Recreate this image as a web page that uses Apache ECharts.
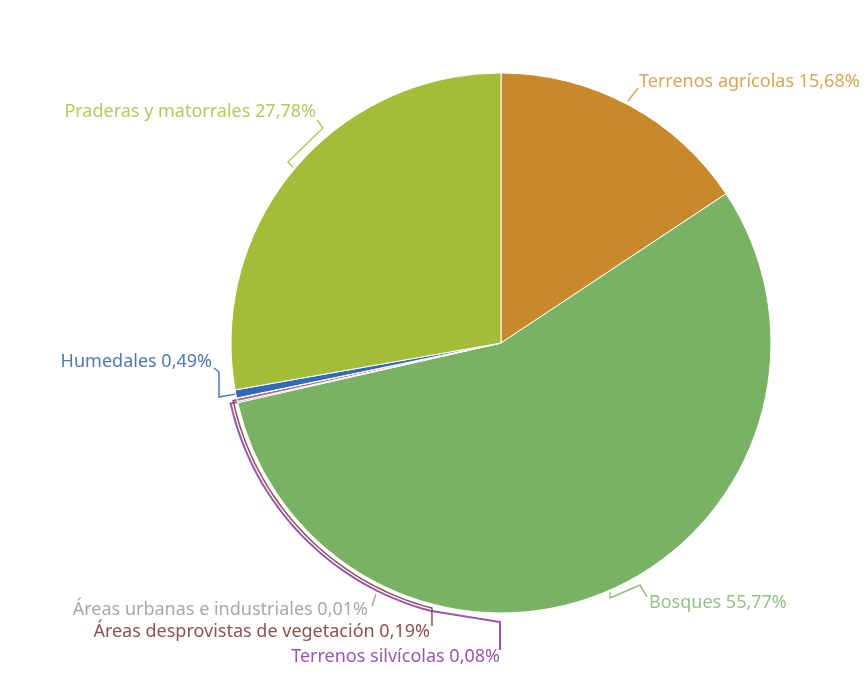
<!DOCTYPE html>
<html>
<head>
<meta charset="utf-8">
<script src="https://cdn.jsdelivr.net/npm/echarts@6/dist/echarts.min.js"></script>
<style>
  html, body { margin: 0; padding: 0; background: #fff; }
  #chart { width: 866px; height: 675px; }
</style>
</head>
<body>
<div id="chart"></div>
<script>
// usos de suelo (%)
const names = [
  'Terrenos agrícolas',
  'Bosques',
  'Terrenos silvícolas',
  'Áreas desprovistas de vegetación',
  'Áreas urbanas e industriales',
  'Humedales',
  'Praderas y matorrales'
]
const values = [15.68, 55.77, 0.08, 0.19, 0.01, 0.49, 27.78]
const sliceColors = ['#c8892b', '#79b265', '#9b5fb5', '#b56a7c', '#cfcfcf', '#2f6bb8', '#a4bd38']
const textColors = ['#d6a65a', '#98bf88', '#9957b3', '#8e5050', '#a8a8a8', '#4d79b8', '#b5c860']

const CX = 501, CY = 343, R = 270

function arcPt(deg, r) {
  const a = deg * Math.PI / 180
  return [CX + r * Math.sin(a), CY - r * Math.cos(a)]
}
function arc(from, to, r) {
  const pts = []
  const n = Math.max(2, Math.ceil(Math.abs(to - from) / 2))
  for (let i = 0; i <= n; i++) pts.push(arcPt(from + (to - from) * i / n, r))
  return pts
}

// mid angle of each slice, clockwise from the top
const total = values.reduce((a, b) => a + b, 0)
const midAngles = []
let acc = 0
values.forEach(v => {
  midAngles.push((acc + v / 2) / total * 360)
  acc += v
})

// where each label sits and how its line runs
const labelSpots = [
  { x: 639, y: 82, align: 'left', line: () => [arcPt(27.7, 273), [638, 88]] },
  { x: 649, y: 603, align: 'left', line: () => [arcPt(156.4, 272), [610, 598], [640, 585], [647, 597]] },
  { x: 500, y: 657, align: 'right', line: m => [arcPt(m, 270)].concat(arc(m, 194.8, 277), [[500, 622], [500, 650]]) },
  { x: 430, y: 632, align: 'right', line: m => [arcPt(m, 270)].concat(arc(m, 194.6, 274), [[432, 626]]) },
  { x: 368, y: 610, align: 'right', line: () => [[376, 594], [372, 606]] },
  { x: 212, y: 362, align: 'right', line: m => [arcPt(m, 268), [219, 397], [219, 372], [214, 368]] },
  { x: 316, y: 112, align: 'right', line: () => [arcPt(310.2, 272), [288, 162], [323, 128], [317, 120]] }
]

const pieData = names.map((n, i) => ({
  name: n,
  value: values[i],
  itemStyle: { color: sliceColors[i] },
  label: { color: textColors[i] },
  labelLine: { lineStyle: { color: textColors[i], width: i === 2 ? 2 : 1.5 } }
}))

let myChart = echarts.init(document.getElementById('chart'))
let option = {
  backgroundColor: '#fff',
  series: [
    {
      type: 'pie',
      center: [CX, CY],
      radius: R,
      startAngle: 90,
      clockwise: true,
      avoidLabelOverlap: false,
      animation: false,
      itemStyle: { borderColor: '#fff', borderWidth: 1 },
      label: {
        show: true,
        position: 'outside',
        fontFamily: 'Noto Sans',
        fontSize: 18,
        formatter: p => p.name + ' ' + p.value.toFixed(2).replace('.', ',') + '%'
      },
      labelLine: { show: true, length: 10, length2: 10 },
      labelLayout: function (params) {
        const s = labelSpots[params.dataIndex]
        return {
          x: s.x,
          y: s.y,
          align: s.align,
          verticalAlign: 'middle',
          labelLinePoints: s.line(midAngles[params.dataIndex])
        }
      },
      data: pieData
    }
  ]
}
myChart.setOption(option)
window.addEventListener('resize', function () {
  myChart.resize()
})
</script>
</body>
</html>
